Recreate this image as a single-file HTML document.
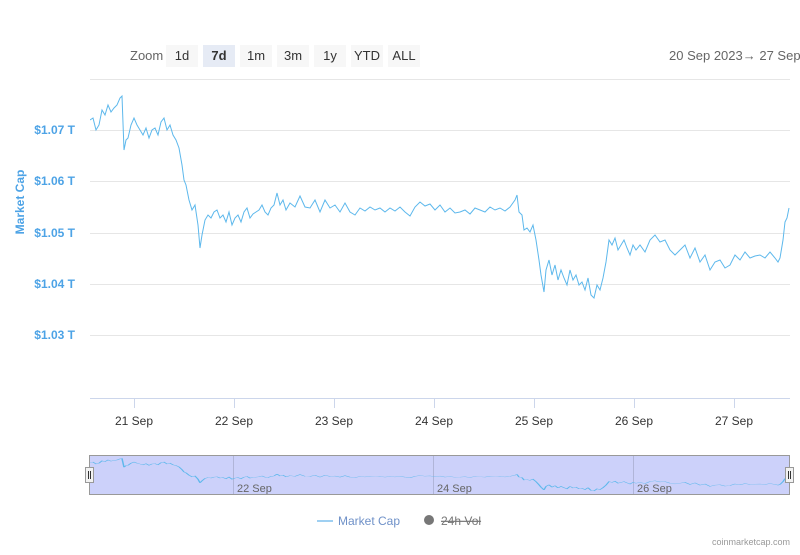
<!DOCTYPE html>
<html><head><style>
body{margin:0;width:800px;height:550px;overflow:hidden;background:#fff;font-family:"Liberation Sans",sans-serif}
</style></head><body>
<svg width="800" height="550" xmlns="http://www.w3.org/2000/svg" font-family="Liberation Sans, sans-serif">
<defs><clipPath id="c"><rect x="90" y="80" width="700" height="320"/></clipPath>
<polyline id="d" fill="none" points="90,120 93,118 96,130 99,125 102,110 105,115 108,105 111,112 114,108 117,105 120,98 122,96 124,150 126,140 128,138 131,125 134,118 137,125 140,130 143,135 146,128 149,138 152,130 155,128 158,135 161,122 164,118 167,130 170,125 173,135 176,140 179,148 182,165 184,180 186,185 189,200 192,210 195,205 198,225 200,248 202,235 205,220 208,215 211,218 214,212 217,210 220,218 223,215 226,222 229,212 232,225 235,218 238,215 241,222 244,212 247,208 250,218 253,214 256,212 259,210 262,205 265,212 268,215 271,208 274,205 277,193 280,205 283,200 286,210 290,203 295,207 300,196 305,207 310,208 315,200 320,212 325,200 330,208 335,205 340,212 345,203 350,212 355,215 360,208 365,211 370,207 375,210 380,208 385,212 390,208 395,211 400,207 405,212 410,216 415,207 420,202 425,206 430,204 435,210 440,205 445,212 450,208 455,213 460,212 465,210 470,214 475,208 480,210 485,212 490,207 495,210 500,208 505,211 510,207 515,200 517,195 519,212 522,215 524,230 527,228 530,232 533,225 536,240 539,260 541,275 544,292 546,270 549,260 552,275 555,265 558,280 561,270 564,278 567,285 570,270 573,280 576,275 579,285 582,282 585,290 588,278 591,295 594,298 597,285 600,290 603,278 606,262 609,240 612,245 615,238 618,250 621,245 624,240 627,248 630,255 633,245 636,250 640,245 645,252 650,240 655,235 660,242 665,240 670,250 675,255 680,250 685,245 690,258 695,248 700,262 705,255 710,270 715,262 720,260 725,268 730,265 735,255 740,260 745,252 750,258 755,256 760,255 765,258 770,252 775,258 778,262 780,258 783,240 785,222 787,218 789,208"/></defs>
<text x="130" y="60" font-size="13" fill="#666">Zoom</text>
<g font-size="13" fill="#333" text-anchor="middle">
<rect x="166" y="45" width="32" height="22" fill="#f7f7f7"/><text x="182" y="60">1d</text>
<rect x="203" y="45" width="32" height="22" fill="#e6ebf5"/><text x="219" y="60" font-weight="bold">7d</text>
<rect x="240" y="45" width="32" height="22" fill="#f7f7f7"/><text x="256" y="60">1m</text>
<rect x="277" y="45" width="32" height="22" fill="#f7f7f7"/><text x="293" y="60">3m</text>
<rect x="314" y="45" width="32" height="22" fill="#f7f7f7"/><text x="330" y="60">1y</text>
<rect x="351" y="45" width="32" height="22" fill="#f7f7f7"/><text x="367" y="60">YTD</text>
<rect x="388" y="45" width="32" height="22" fill="#f7f7f7"/><text x="404" y="60">ALL</text>
</g>
<text x="669" y="60" font-size="13" fill="#666">20 Sep 2023→  27 Sep</text>
<g stroke="#e6e6e6" stroke-width="1">
<line x1="90" x2="790" y1="79.5" y2="79.5"/>
<line x1="90" x2="790" y1="130.5" y2="130.5"/>
<line x1="90" x2="790" y1="181.5" y2="181.5"/>
<line x1="90" x2="790" y1="233.5" y2="233.5"/>
<line x1="90" x2="790" y1="284.5" y2="284.5"/>
<line x1="90" x2="790" y1="335.5" y2="335.5"/>
</g>
<line x1="90" x2="790" y1="398.5" y2="398.5" stroke="#ccd6eb"/>
<g stroke="#ccd6eb"><line x1="134.5" x2="134.5" y1="398" y2="408"/><line x1="234.5" x2="234.5" y1="398" y2="408"/><line x1="334.5" x2="334.5" y1="398" y2="408"/><line x1="434.5" x2="434.5" y1="398" y2="408"/><line x1="534.5" x2="534.5" y1="398" y2="408"/><line x1="634.5" x2="634.5" y1="398" y2="408"/><line x1="734.5" x2="734.5" y1="398" y2="408"/></g>
<g font-size="12" fill="#4da3e6" font-weight="bold" text-anchor="end">
<text x="75" y="134">$1.07 T</text><text x="75" y="185">$1.06 T</text><text x="75" y="237">$1.05 T</text><text x="75" y="288">$1.04 T</text><text x="75" y="339">$1.03 T</text>
</g>
<text transform="translate(24,202) rotate(-90)" font-size="12" font-weight="bold" fill="#4da3e6" text-anchor="middle">Market Cap</text>
<g font-size="12" fill="#333" text-anchor="middle">
<text x="134" y="425">21 Sep</text><text x="234" y="425">22 Sep</text><text x="334" y="425">23 Sep</text><text x="434" y="425">24 Sep</text><text x="534" y="425">25 Sep</text><text x="634" y="425">26 Sep</text><text x="734" y="425">27 Sep</text>
</g>
<use href="#d" stroke="#5db8ec" stroke-width="1" clip-path="url(#c)"/>
<rect x="90" y="456" width="700" height="38" fill="#ccd1fa"/>
<g stroke="#b0b5d8"><line x1="233.5" x2="233.5" y1="456" y2="494"/><line x1="433.5" x2="433.5" y1="456" y2="494"/><line x1="633.5" x2="633.5" y1="456" y2="494"/></g>
<g font-size="11" fill="#666"><text x="237" y="492">22 Sep</text><text x="437" y="492">24 Sep</text><text x="637" y="492">26 Sep</text></g>
<g transform="translate(0,443.2) scale(1,0.16)"><use href="#d" stroke="#5db8ec" stroke-width="1.5" vector-effect="non-scaling-stroke"/></g>
<rect x="89.5" y="455.5" width="700" height="39" fill="none" stroke="#999"/>
<rect x="85.5" y="467.5" width="8" height="15" fill="#f2f2f2" stroke="#999"/>
<line x1="88.5" x2="88.5" y1="471" y2="479" stroke="#333"/><line x1="90.5" x2="90.5" y1="471" y2="479" stroke="#333"/>
<rect x="785.5" y="467.5" width="8" height="15" fill="#f2f2f2" stroke="#999"/>
<line x1="788.5" x2="788.5" y1="471" y2="479" stroke="#333"/><line x1="790.5" x2="790.5" y1="471" y2="479" stroke="#333"/>
<line x1="317" x2="333" y1="521" y2="521" stroke="#9fd0f2" stroke-width="2"/>
<text x="338" y="525" font-size="12" fill="#6f91c8">Market Cap</text>
<circle cx="429" cy="520" r="5" fill="#777"/>
<text x="441" y="525" font-size="12" fill="#777" text-decoration="line-through">24h Vol</text>
<text x="790" y="545" font-size="9" fill="#999" text-anchor="end">coinmarketcap.com</text>
</svg>
</body></html>
